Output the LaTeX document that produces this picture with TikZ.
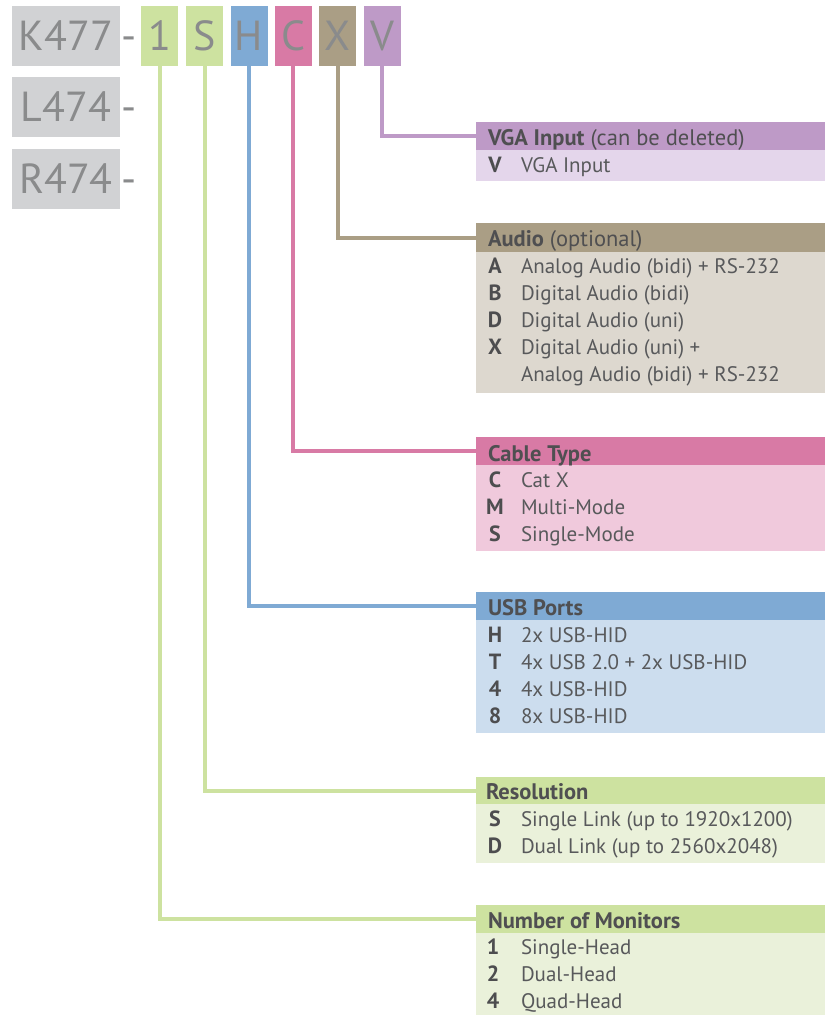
\documentclass[tikz,border=0pt]{standalone}
\usepackage{fontspec}
\setmainfont{PT Sans}
\definecolor{boxgray}{HTML}{D1D2D4}
\definecolor{bigtxt}{HTML}{8A8B8C}
\definecolor{grnH}{HTML}{CDE2A0}
\definecolor{grnB}{HTML}{EAF1DA}
\definecolor{bluH}{HTML}{7FAAD4}
\definecolor{bluB}{HTML}{CCDDEE}
\definecolor{pnkH}{HTML}{D87AA5}
\definecolor{pnkB}{HTML}{F0C9DC}
\definecolor{tanH}{HTML}{AA9E85}
\definecolor{tanB}{HTML}{DDD8CF}
\definecolor{purH}{HTML}{BE9AC7}
\definecolor{purB}{HTML}{E4D6EB}
\definecolor{hcol}{HTML}{4F4F51}
\definecolor{dcol}{HTML}{58595B}
\definecolor{lcol}{HTML}{4D4D4F}
\newcommand\bigfnt{\fontsize{42}{46}\selectfont}
\newcommand\txtfnt{\fontsize{21}{24}\selectfont}
\newcommand\ltrfnt{\fontsize{22}{24}\selectfont}
\newcommand\hdrfnt{\fontsize{22.5}{25}\selectfont}
\begin{document}
\begin{tikzpicture}[x=1pt,y=-1pt,
  every node/.style={inner sep=0pt, outer sep=0pt},
  gbox/.style={fill=boxgray, minimum width=108pt, minimum height=60pt, anchor=north west, font=\bigfnt, text=bigtxt},
  cbox/.style={minimum width=37pt, minimum height=60pt, anchor=north west, font=\bigfnt, text=bigtxt},
  dashtxt/.style={font=\bigfnt, text=bigtxt, anchor=base},
  hdr/.style={minimum width=349pt, minimum height=28pt, anchor=north west},
  bdy/.style={minimum width=349pt, anchor=north west},
  htxt/.style={anchor=base west, font=\hdrfnt, text=hcol},
  ltr/.style={anchor=base, font=\ltrfnt\bfseries, text=lcol},
  dtxt/.style={anchor=base west, font=\txtfnt, text=dcol},
  conn/.style={line width=4pt}
]
\useasboundingbox (0,0) rectangle (825,1015);
\fill[white] (0,0) rectangle (825,1015);

% left product boxes
\node[gbox] (k) at (12,6) {K477};
\node[gbox] (l) at (12,77) {L474};
\node[gbox] (r) at (12,149) {R474};
\node[dashtxt] (dk) at (129,50) {-};
\node[dashtxt] (dl) at (129,121) {-};
\node[dashtxt] (dr) at (129,193) {-};

% code boxes
\node[cbox, fill=grnH] (c1) at (141,6) {1};
\node[cbox, fill=grnH] (cS) at (186,6) {S};
\node[cbox, fill=bluH] (cH) at (230.5,6) {H};
\node[cbox, fill=pnkH] (cC) at (274.5,6) {C};
\node[cbox, fill=tanH] (cX) at (319,6) {X};
\node[cbox, fill=purH] (cV) at (363.5,6) {V};

% section boxes
\node[hdr, fill=purH] (hV) at (476,122) {};
\node[bdy, fill=purB, minimum height=31pt] (bV) at (476,150) {};
\node[hdr, fill=tanH, minimum height=29pt] (hA) at (476,223) {};
\node[bdy, fill=tanB, minimum height=141pt] (bA) at (476,252) {};
\node[hdr, fill=pnkH] (hC) at (476,437) {};
\node[bdy, fill=pnkB, minimum height=86pt] (bC) at (476,465) {};
\node[hdr, fill=bluH] (hU) at (476,592) {};
\node[bdy, fill=bluB, minimum height=113pt] (bU) at (476,620) {};
\node[hdr, fill=grnH, minimum height=27pt] (hR) at (476,777) {};
\node[bdy, fill=grnB, minimum height=59pt] (bR) at (476,804) {};
\node[hdr, fill=grnH] (hM) at (476,905) {};
\node[bdy, fill=grnB, minimum height=82pt] (bM) at (476,933) {};

% connectors
\draw[conn, purH] (cV.south) |- (hV.west);
\draw[conn, tanH] (cX.south) |- (hA.west);
\draw[conn, pnkH] (cC.south) |- (hC.west);
\draw[conn, bluH] (cH.south) |- (hU.west);
\draw[conn, grnH] (cS.south) |- (hR.west);
\draw[conn, grnH] (c1.south) |- (hM.west);

% VGA
\node[htxt] (tV) at (488,145) {\textbf{VGA Input} (can be deleted)};
\node[ltr] (lV1) at (495,172) {V};
\node[dtxt] (dV1) at (521,172) {VGA Input};

% Audio
\node[htxt] (tA) at (488,246) {\textbf{Audio} (optional)};
\node[ltr] (lA1) at (495,273) {A};
\node[dtxt] (dA1) at (521,273) {Analog Audio (bidi) + RS-232};
\node[ltr] (lA2) at (495,300) {B};
\node[dtxt] (dA2) at (521,300) {Digital Audio (bidi)};
\node[ltr] (lA3) at (495,327) {D};
\node[dtxt] (dA3) at (521,327) {Digital Audio (uni)};
\node[ltr] (lA4) at (495,354) {X};
\node[dtxt] (dA4) at (521,354) {Digital Audio (uni) +};
\node[dtxt] (dA5) at (521,381) {Analog Audio (bidi) + RS-232};

% Cable
\node[htxt] (tC) at (488,461) {\textbf{Cable Type}};
\node[ltr] (lC1) at (495,487) {C};
\node[dtxt] (dC1) at (521,487) {Cat X};
\node[ltr] (lC2) at (495,514) {M};
\node[dtxt] (dC2) at (521,514) {Multi-Mode};
\node[ltr] (lC3) at (495,541) {S};
\node[dtxt] (dC3) at (521,541) {Single-Mode};

% USB
\node[htxt] (tU) at (488,615) {\textbf{USB Ports}};
\node[ltr] (lU1) at (495,642) {H};
\node[dtxt] (dU1) at (521,642) {2x USB-HID};
\node[ltr] (lU2) at (495,669) {T};
\node[dtxt] (dU2) at (521,669) {4x USB 2.0 + 2x USB-HID};
\node[ltr] (lU3) at (495,696) {4};
\node[dtxt] (dU3) at (521,696) {4x USB-HID};
\node[ltr] (lU4) at (495,723) {8};
\node[dtxt] (dU4) at (521,723) {8x USB-HID};

% Resolution
\node[htxt] (tR) at (486,799) {\textbf{Resolution}};
\node[ltr] (lR1) at (495,826) {S};
\node[dtxt] (dR1) at (521,826) {Single Link (up to 1920x1200)};
\node[ltr] (lR2) at (495,853) {D};
\node[dtxt] (dR2) at (521,853) {Dual Link (up to 2560x2048)};

% Monitors
\node[htxt] (tM) at (488,928) {\textbf{Number of Monitors}};
\node[ltr] (lM1) at (493,954) {1};
\node[dtxt] (dM1) at (521,954) {Single-Head};
\node[ltr] (lM2) at (493,981) {2};
\node[dtxt] (dM2) at (521,981) {Dual-Head};
\node[ltr] (lM3) at (493,1008) {4};
\node[dtxt] (dM3) at (521,1008) {Quad-Head};
\end{tikzpicture}
\end{document}
